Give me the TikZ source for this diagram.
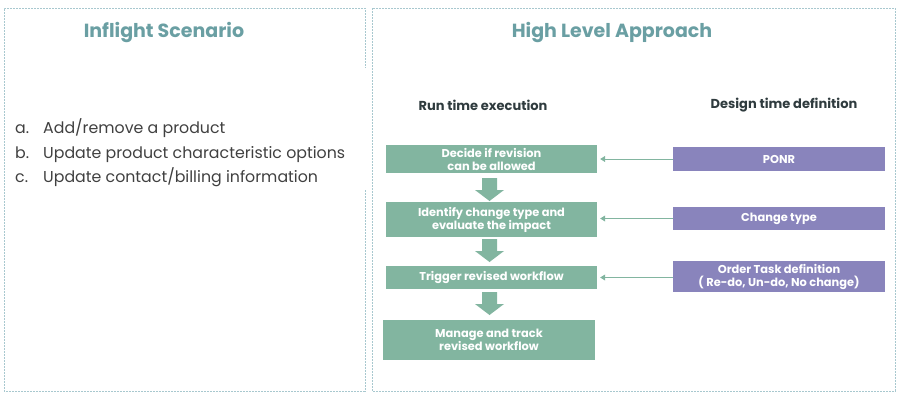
\documentclass[tikz,border=0pt]{standalone}
\usepackage{fontspec}
\setmainfont{Poppins}
\usetikzlibrary{positioning,arrows.meta}
\definecolor{titleteal}{HTML}{6A9FA3}
\definecolor{rungreen}{HTML}{82B5A0}
\definecolor{defpurple}{HTML}{8984BC}
\definecolor{panelline}{HTML}{A8C8CF}
\definecolor{headdark}{HTML}{2F3B3E}
\definecolor{listgray}{HTML}{404040}
\tikzset{
  panel/.style={draw=panelline, line width=1pt, dash pattern=on 2pt off 1pt},
  paneltitle/.style={text=titleteal, font=\bfseries\fontsize{19}{22}\selectfont},
  colhead/.style={text=headdark, font=\bfseries\fontsize{13}{15}\selectfont},
  listitem/.style={text=listgray, font=\fontsize{15.8}{18}\selectfont, anchor=base west, inner sep=0pt},
  runbox/.style={fill=rungreen, text=white, font=\bfseries\fontsize{11.4}{13}\selectfont, align=center, minimum width=211pt, inner sep=0pt},
  defbox/.style={fill=defpurple, text=white, font=\bfseries\fontsize{11.4}{13}\selectfont, align=center, minimum width=212pt, inner sep=0pt},
  feed/.style={draw=rungreen, line width=0.8pt, -{Triangle[width=6pt,length=5pt]}, shorten >=3pt}
}
\begin{document}
\begin{tikzpicture}[x=1pt,y=-1pt]
  \useasboundingbox (0,0) rectangle (901,400);

  % panels
  \draw[panel] (365,190) -- (365,391) -- (4,391) -- (4,8) -- (365,8) -- (365,68);
  \draw[panel] (372,8) rectangle (895,391);

  % left panel
  \node[paneltitle] (inflight) at (164,32) {Inflight Scenario};
  \node[listitem] (itema) at (15,133) {a.};
  \node[listitem] (itemb) at (15,158) {b.};
  \node[listitem] (itemc) at (15,182) {c.};
  \node[listitem] (texta) at (43,133) {Add/remove a product};
  \node[listitem] (textb) at (43,158) {Update product characteristic options};
  \node[listitem] (textc) at (43,182) {Update contact/billing information};

  % right panel
  \node[paneltitle] (approach) at (612,32) {High Level Approach};
  \node[colhead] (runtime) at (483,105) {Run time execution};
  \node[colhead] (designtime) at (784,105) {Design time definition};

  \node[runbox, minimum height=28pt] (decide) at (491.5,159) {Decide if revision\\can be allowed};
  \node[runbox, minimum height=35pt] (identify) at (491.5,219.5) {Identify change type and\\evaluate the impact};
  \node[runbox, minimum height=23pt] (trigger) at (491.5,277.5) {Trigger revised workflow};
  \node[runbox, minimum height=40pt, minimum width=212pt] (manage) at (489,340) {Manage and track\\revised workflow};

  \node[defbox, minimum height=24pt] (ponr) at (779,159) {PONR};
  \node[defbox, minimum height=23pt] (changetype) at (779,218.5) {Change type};
  \node[defbox, minimum height=31pt] (ordertask) at (779,276.5) {Order Task definition\\( Re-do, Un-do, No change)};

  % block arrows between steps
  \foreach \ya in {178,239,292}
    \fill[rungreen] (482,\ya) -- (497,\ya) -- (497,\ya+12) -- (504,\ya+12)
      -- (489.5,\ya+23) -- (475,\ya+12) -- (482,\ya+12) -- cycle;

  \draw[feed] (ponr.west) -- (decide.east);
  \draw[feed] (changetype.west) -- (changetype.west -| identify.east);
  \draw[feed] (ordertask.west |- trigger.east) -- (trigger.east);
\end{tikzpicture}
\end{document}
